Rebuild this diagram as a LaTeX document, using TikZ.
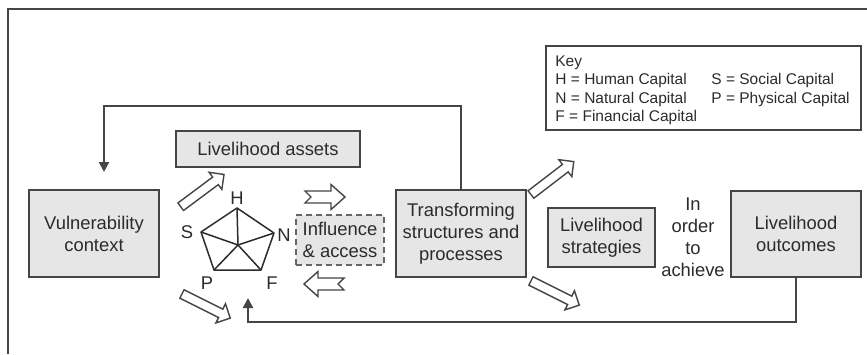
\documentclass[tikz,border=0pt]{standalone}
\usepackage{fontspec}
\setmainfont{Liberation Sans}
\usetikzlibrary{shapes.arrows}
\usetikzlibrary{arrows.meta}

\definecolor{boxgray}{HTML}{E6E6E6}
\definecolor{linegray}{HTML}{454545}
\definecolor{txtgray}{HTML}{2B2B2B}

\tikzset{
  box/.style={draw=linegray, line width=1pt, fill=boxgray, text=txtgray, align=center, inner sep=0pt, font=\fontsize{9.2}{11}\selectfont},
  lbl/.style={text=txtgray, inner sep=0pt, font=\fontsize{9.2}{11}\selectfont},
  fb/.style={draw=linegray, line width=1pt, -{Triangle[length=5pt,width=5pt]}},
  pent/.style={draw=txtgray, line width=0.75pt, line join=round},
  hollow/.style={draw=linegray, line width=0.7pt, fill=white, line join=miter},
  bigarrow/.style={single arrow, hollow, minimum height=27pt, inner sep=2pt, single arrow head extend=3pt},
  sigarrow/.pic={\draw[hollow] (-20,-6) -- (6,-6) -- (6,-12.5) -- (20,0) -- (6,12.5) -- (6,6) -- (-20,6) -- (-14,0) -- cycle;}
}

\begin{document}
\begin{tikzpicture}[x=0.5pt,y=-0.5pt]
\useasboundingbox (0,0) rectangle (867,354);
%frame
\draw[linegray, line width=1pt] (8,354) -- (8,9) -- (867,9);

%boxes
\node[box, minimum width=65pt, minimum height=43.5pt] (vuln)  at (94,233.5)  {Vulnerability\\context};
\node[box, minimum width=92pt, minimum height=18pt]   (assets) at (268,149)  {Livelihood assets};
\node[box, draw=gray!80!black, dash pattern=on 3pt off 2pt, minimum width=44pt, minimum height=25pt] (infl) at (340,240) {Influence\\\& access};
\node[box, minimum width=65pt, minimum height=43.5pt] (trans) at (461,233.5) {Transforming\\structures and\\processes};
\node[box, minimum width=53.5pt, minimum height=29.5pt] (strat) at (601.5,237.5) {Livelihood\\strategies};
\node[box, minimum width=65pt, minimum height=43pt]   (outc)  at (796,234)   {Livelihood\\outcomes};
\node[lbl, align=center] (achv) at (693,237) {In\\order\\to\\achieve};

%key
\node[draw=linegray, line width=1pt, minimum width=157.5pt, minimum height=42pt, inner sep=0pt] (key) at (703.5,88) {};
\node[lbl, anchor=north west, font=\fontsize{7.75}{9.25}\selectfont] (keytxt) at (555,53)
  {\begin{tabular}{@{}p{78pt}@{}l@{}}
   Key & \\
   H = Human Capital & S = Social Capital\\
   N = Natural Capital & P = Physical Capital\\
   F = Financial Capital &
   \end{tabular}};

%asset pentagon
\coordinate (pc) at (238,245);
\coordinate (pH) at (237,208);
\coordinate (pS) at (201,232);
\coordinate (pN) at (274,233);
\coordinate (pF) at (261,270);
\coordinate (pP) at (214,270);
\draw[pent] (pH) -- (pN) -- (pF) -- (pP) -- (pS) -- cycle;
\foreach \v in {H,N,F,P,S}
  \draw[pent] (pc) -- (p\v);
\node[lbl] (lH) at (237,198) {H};
\node[lbl] (lS) at (187,232) {S};
\node[lbl] (lN) at (284,235) {N};
\node[lbl] (lP) at (207,283) {P};
\node[lbl] (lF) at (272,283) {F};

%hollow arrows
\node[bigarrow, rotate=36.7]  (a1) at (200.5,192) {};
\node[bigarrow, rotate=-26.6] (a4) at (204,305)   {};
\node[bigarrow, rotate=37.5]  (a5) at (550.5,179.5) {};
\node[bigarrow, rotate=-26.6] (a6) at (553,292)   {};
\pic at (325,197) {sigarrow};
\pic[rotate=180] at (324,284) {sigarrow};

%feedback lines
\coordinate (vtip) at (104,172);
\coordinate (ptip) at (248,298);
\draw[fb] (trans.north) -- ++(0,-83) -| (vtip);
\draw[fb] (outc.south) -- ++(0,44) -| (ptip);
\end{tikzpicture}
\end{document}
